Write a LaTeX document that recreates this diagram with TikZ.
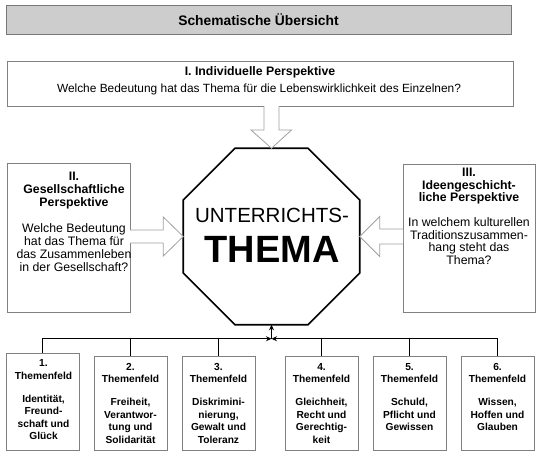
\documentclass[tikz,border=0pt]{standalone}
\usepackage{fontspec}
\setmainfont{Liberation Sans}
\usetikzlibrary{shapes.geometric,arrows.meta,calc}
\definecolor{boxgray}{HTML}{808080}
\definecolor{titlefill}{HTML}{CDCDCD}
\definecolor{titleline}{HTML}{787878}
\definecolor{arrowgray}{HTML}{A0A0A0}
\newcommand\fsz[2]{\fontsize{#1}{#2}\selectfont}
\begin{document}
\begin{tikzpicture}[x=1pt,y=-1pt,
  box/.style={draw=boxgray, line width=0.8pt, inner sep=0pt, outer sep=0pt, anchor=north west},
  fbox/.style={box, minimum width=73pt, minimum height=#1},
  ftxt/.style={anchor=north, align=center, inner sep=0pt, font=\bfseries\fsz{10.2}{12.5}},
  ptxt/.style={anchor=north, align=center, inner sep=0pt},
  hollow/.style={draw=arrowgray, fill=white, line width=0.8pt, line join=miter},
  conn/.style={draw=black, line width=0.9pt},
  tip/.style={-{Stealth[length=5.5pt,width=5pt]}}
]
\fill[white] (0,0) rectangle (546,463);
\useasboundingbox (0,0) rectangle (546,463);

% title bar
\node[box, draw=titleline, fill=titlefill, line width=1pt, minimum width=505pt, minimum height=29pt,
      font=\bfseries\fsz{13.8}{16}] (title) at (6,5) {Schematische Übersicht};

% perspective I
\node[box, minimum width=506pt, minimum height=45pt] (p1) at (7,61) {};
\node[anchor=base, inner sep=0pt, font=\bfseries\fsz{12.3}{14}] (p1a) at (260,75.5) {I. Individuelle Perspektive};
\node[anchor=base, inner sep=0pt, font=\fsz{11.9}{14}] (p1b) at (259,92.5) {Welche Bedeutung hat das Thema für die Lebenswirklichkeit des Einzelnen?};

% perspective II
\node[box, minimum width=123pt, minimum height=149pt] (p2) at (7,163) {};
\node[ptxt, font=\fsz{12.3}{13}] (p2t) at (74,172.2)
  {\textbf{II.}\\\textbf{Gesellschaftliche}\\\textbf{Perspektive}\\[13pt]Welche Bedeutung\\hat das Thema für\\das Zusammenleben\\in der Gesellschaft?};

% perspective III
\node[box, minimum width=132pt, minimum height=148pt] (p3) at (403,164) {};
\node[ptxt, font=\fsz{12.3}{12.5}] (p3t) at (469,168.2)
  {\textbf{III.}\\\textbf{Ideengeschicht-}\\\textbf{liche Perspektive}\\[12.5pt]In welchem kulturellen\\Traditionszusammen-\\hang steht das\\Thema?};

% octagon
\node[draw=black, line width=1.6pt, regular polygon, regular polygon sides=8,
      minimum size=191pt, inner sep=0pt, outer sep=0pt] (oct) at (271.5,236.5) {};
\node[anchor=base, inner sep=0pt, font=\fsz{20.5}{24}] (ut) at (272,222) {UNTERRICHTS-};
\node[anchor=base, inner sep=0pt, font=\bfseries\fsz{38}{44}] (th) at (272,262) {THEMA};

% hollow arrows
\draw[hollow] ($(oct.north |- p1.south)+(-7.5,0)$) -- ++(0,24) -- ++(-13,0) -- (oct.north)
   -- ($(oct.north |- p1.south)+(20,24)$) -- ++(-12.5,0) -- ++(0,-24);
\draw[hollow] ($(p2.east |- oct.west)+(0,-6.5)$) -- ($(oct.west)+(-20,-6.5)$) -- ($(oct.west)+(-20,-19.5)$)
   -- (oct.west) -- ($(oct.west)+(-20,19.5)$) -- ($(oct.west)+(-20,6.5)$) -- ($(p2.east |- oct.west)+(0,6.5)$);
\draw[hollow] ($(p3.west |- oct.east)+(0,-7.5)$) -- ($(oct.east)+(20,-7.5)$) -- ($(oct.east)+(20,-20)$)
   -- (oct.east) -- ($(oct.east)+(20,20)$) -- ($(oct.east)+(20,7.5)$) -- ($(p3.west |- oct.east)+(0,7.5)$);

% Themenfelder
\node[fbox=97pt] (t1) at (6,353) {};
\node[fbox=94pt] (t2) at (94,356) {};
\node[fbox=94pt] (t3) at (182,356) {};
\node[fbox=94pt] (t4) at (285,356) {};
\node[fbox=94pt] (t5) at (373,356) {};
\node[fbox=94pt] (t6) at (461,356) {};
\node[ftxt] (t1t) at ($(t1.north)+(1,6.5)$) {1.\\Themenfeld\\[10.5pt]Identität,\\Freund-\\schaft und\\Glück};
\node[ftxt] (t2t) at ($(t2.north)+(0,7)$) {2.\\Themenfeld\\[10.5pt]Freiheit,\\Verantwor-\\tung und\\Solidarität};
\node[ftxt] (t3t) at ($(t3.north)+(0,7)$) {3.\\Themenfeld\\[10.5pt]Diskrimini-\\nierung,\\Gewalt und\\Toleranz};
\node[ftxt] (t4t) at ($(t4.north)+(0,7)$) {4.\\Themenfeld\\[10.5pt]Gleichheit,\\Recht und\\Gerechtig-\\keit};
\node[ftxt] (t5t) at ($(t5.north)+(0,7)$) {5.\\Themenfeld\\[10.5pt]Schuld,\\Pflicht und\\Gewissen};
\node[ftxt] (t6t) at ($(t6.north)+(0,7)$) {6.\\Themenfeld\\[10.5pt]Wissen,\\Hoffen und\\Glauben};

% connectors
\coordinate (j) at ($(oct.south)+(0,14)$);
\draw[conn, tip] (t1.north) |- (j);
\draw[conn, tip] (t6.north) |- (j);
\draw[conn] (t2.north) -- (t2.north |- j);
\draw[conn] (t3.north) -- (t3.north |- j);
\draw[conn] (t4.north) -- (t4.north |- j);
\draw[conn] (t5.north) -- (t5.north |- j);
\draw[conn, tip] (j) -- (oct.south);
\end{tikzpicture}
\end{document}
